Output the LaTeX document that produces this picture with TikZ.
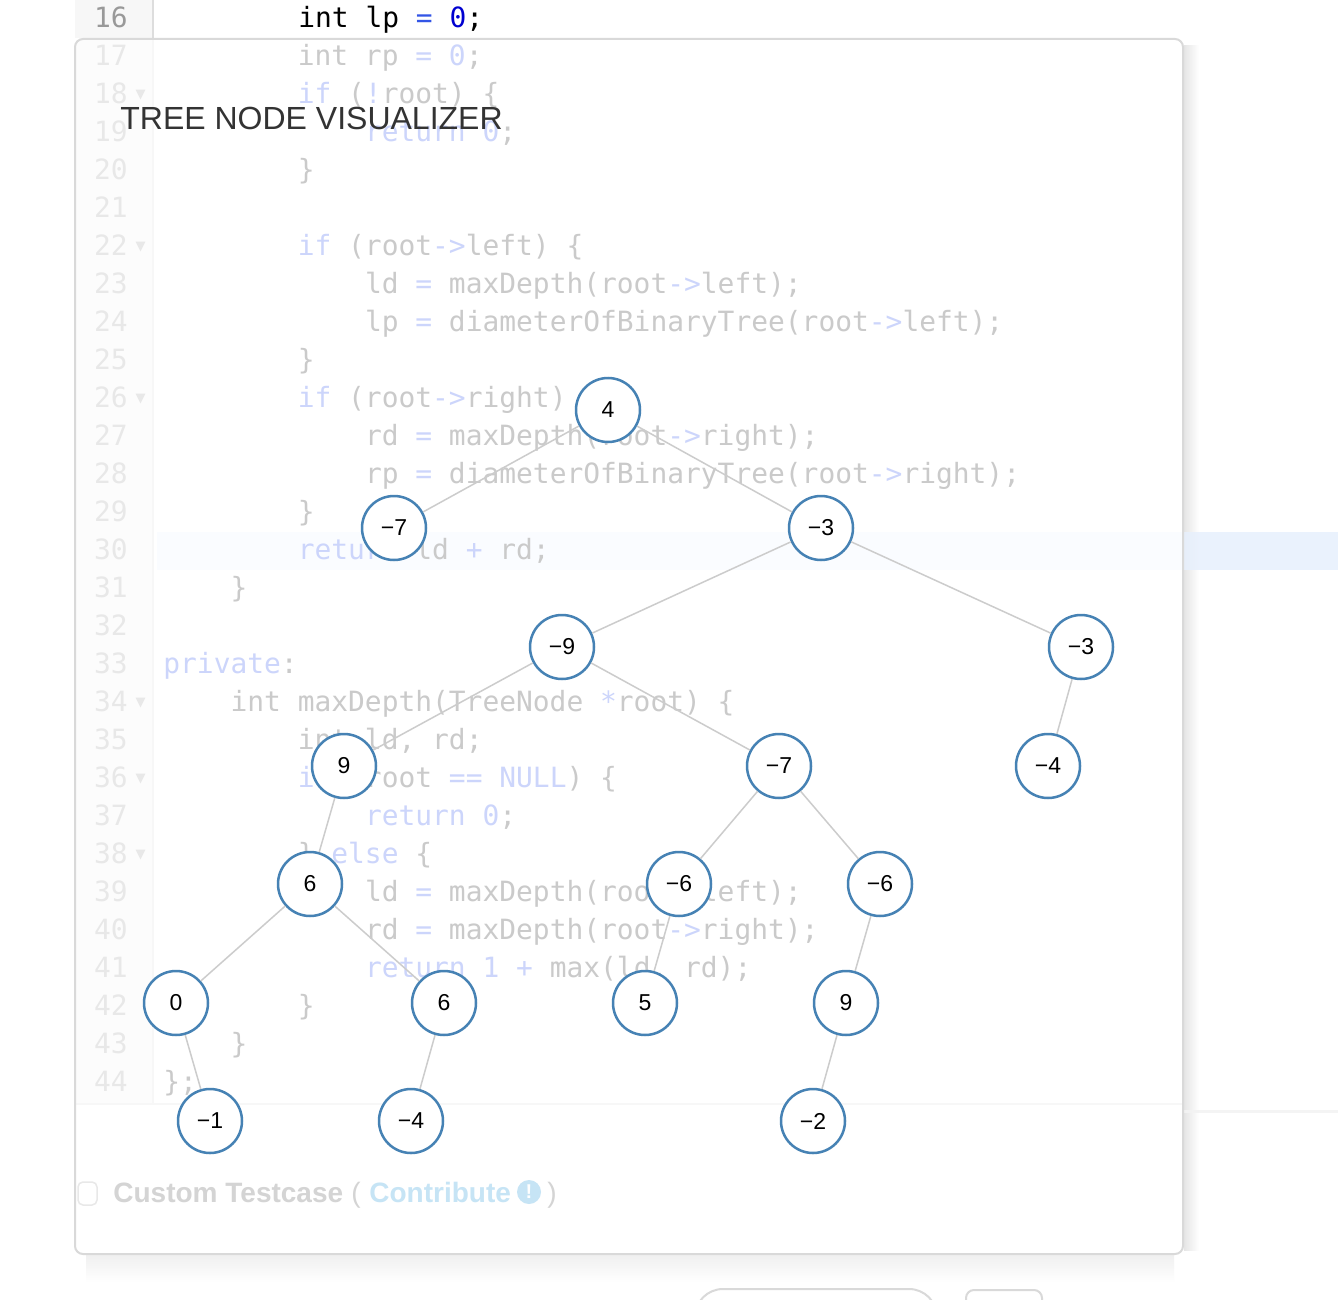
\documentclass[tikz,border=0pt]{standalone}
\usepackage{fontspec}
\setmainfont{Liberation Sans}
\newfontfamily\codefont{DejaVu Sans Mono}
\newfontfamily\symfont{DejaVu Sans}
\definecolor{nodeblue}{HTML}{4682B4}
\definecolor{edgegray}{HTML}{CCCCCC}
\definecolor{codegray}{HTML}{CACACA}
\definecolor{kwblue}{HTML}{CCD5FB}
\definecolor{lnfaint}{HTML}{E8E8E8}
\definecolor{lndark}{HTML}{999999}
\definecolor{gutterbg}{HTML}{F7F7F7}
\definecolor{gutterin}{HTML}{FCFCFC}
\definecolor{gutterln}{HTML}{DDDDDD}
\definecolor{hlin}{HTML}{FAFCFF}
\definecolor{hlout}{HTML}{E7F0FD}
\definecolor{panelln}{HTML}{D9D9D9}
\definecolor{titlegray}{HTML}{333333}
\definecolor{ctgray}{HTML}{D4D4D4}
\definecolor{ctblue}{HTML}{C6E4F5}
\definecolor{eqblue}{HTML}{3355E6}
\definecolor{zeroblue}{HTML}{0000D0}
\newcommand\kwd[1]{\textcolor{kwblue}{#1}}
\newcommand\codeline[3]{\node[codetxt] (c#1) at ({163+16.8*#2},{27.5+38*(#1-16)}) {#3};}
\begin{document}
\begin{tikzpicture}[x=0.5pt,y=-0.5pt,
  codetxt/.style={anchor=base west, inner sep=0pt, text=codegray, font=\codefont\fontsize{13.95}{16}\selectfont},
  lnum/.style={anchor=base east, inner sep=0pt, text=lnfaint, font=\codefont\fontsize{13.95}{16}\selectfont},
  fold/.style={inner sep=0pt, text=lnfaint, font=\symfont\fontsize{6.5}{7}\selectfont},
  tnode/.style={circle, draw=nodeblue, fill=white, line width=1.25pt, minimum size=32pt, inner sep=0pt, text=black, font=\fontsize{11.5}{12}\selectfont},
  tedge/.style={draw=edgegray, line width=0.75pt},
  btn/.style={draw=panelln, line width=1pt}]
\useasboundingbox (0,0) rectangle (1338,1300);
\fill[white] (0,0) rectangle (1338,1300);
% editor top line (outside the panel)
\fill[gutterbg] (75,-2) rectangle (153,38);
\draw[gutterln, line width=0.75pt] (153,-2) -- (153,38);
\node[lnum, text=lndark] (l16) at (128,27.5) {16};
\node[codetxt, text=black] (c16) at (298,27.5) {int lp \textcolor{eqblue}{=} \textcolor{zeroblue}{0};};
% panel shadow
\shade[left color=black!10, right color=white] (1184,46) rectangle (1199,1250);
\shade[top color=black!6, bottom color=white] (86,1255) rectangle (1174,1282);
% editor under the panel (faded)
\fill[gutterin] (76,40) rectangle (153,1104);
\draw[gutterbg, line width=0.75pt] (153,40) -- (153,1104);
\fill[hlin] (157,532) rectangle (1183,570);
\fill[hlout, opacity=0.85] (1184,532) rectangle (1338,570);
\draw[gutterbg, line width=0.75pt] (76,1104) -- (1183,1104);
\draw[gutterbg!150, line width=1.5pt, opacity=0.9] (1184,1111) -- (1338,1111);
\foreach \n in {17,...,44} \node[lnum] (l\n) at (128,{27.5+38*(\n-16)}) {\n};
\foreach \n in {18,22,26,34,36,38} \node[fold] (f\n) at (140.5,{19+38*(\n-16)}) {▼};
\codeline{17}{8}{int rp \kwd{=} \kwd{0};}
\codeline{18}{8}{\kwd{if} (\kwd{!}root) \{}
\codeline{19}{12}{\kwd{return} \kwd{0};}
\codeline{20}{8}{\}}
\codeline{22}{8}{\kwd{if} (root\kwd{->}left) \{}
\codeline{23}{12}{ld \kwd{=} maxDepth(root\kwd{->}left);}
\codeline{24}{12}{lp \kwd{=} diameterOfBinaryTree(root\kwd{->}left);}
\codeline{25}{8}{\}}
\codeline{26}{8}{\kwd{if} (root\kwd{->}right) \{}
\codeline{27}{12}{rd \kwd{=} maxDepth(root\kwd{->}right);}
\codeline{28}{12}{rp \kwd{=} diameterOfBinaryTree(root\kwd{->}right);}
\codeline{29}{8}{\}}
\codeline{30}{8}{\kwd{return} ld \kwd{+} rd;}
\codeline{31}{4}{\}}
\codeline{33}{0}{\kwd{private}:}
\codeline{34}{4}{int maxDepth(TreeNode \kwd{*}root) \{}
\codeline{35}{8}{int ld, rd;}
\codeline{36}{8}{\kwd{if} (root \kwd{==} \kwd{NULL}) \{}
\codeline{37}{12}{\kwd{return} \kwd{0};}
\codeline{38}{8}{\} \kwd{else} \{}
\codeline{39}{12}{ld \kwd{=} maxDepth(root\kwd{->}left);}
\codeline{40}{12}{rd \kwd{=} maxDepth(root\kwd{->}right);}
\codeline{41}{12}{\kwd{return} \kwd{1} \kwd{+} max(ld, rd);}
\codeline{42}{8}{\}}
\codeline{43}{4}{\}}
\codeline{44}{0}{\};}
% panel border
\draw[panelln, line width=1pt, rounded corners=4pt] (75,39) rectangle (1183,1254);
% title
\node[anchor=base west, inner sep=0pt, text=titlegray, font=\fontsize{16}{19}\selectfont] (title) at (120,130) {TREE NODE VISUALIZER};
% tree
\node[tnode] (n4) at (608,410) {4};
\node[tnode] (nm7a) at (394,528) {−7};
\node[tnode] (nm3a) at (821,528) {−3};
\node[tnode] (nm9) at (562,647) {−9};
\node[tnode] (nm3b) at (1081,647) {−3};
\node[tnode] (n9a) at (344,766) {9};
\node[tnode] (nm7b) at (779,766) {−7};
\node[tnode] (nm4a) at (1048,766) {−4};
\node[tnode] (n6a) at (310,884) {6};
\node[tnode] (nm6a) at (679,884) {−6};
\node[tnode] (nm6b) at (880,884) {−6};
\node[tnode] (n0) at (176,1003) {0};
\node[tnode] (n6b) at (444,1003) {6};
\node[tnode] (n5) at (645,1003) {5};
\node[tnode] (n9b) at (846,1003) {9};
\node[tnode] (nm1) at (210,1121) {−1};
\node[tnode] (nm4b) at (411,1121) {−4};
\node[tnode] (nm2) at (813,1121) {−2};
\draw[tedge] (n4) -- (nm7a);
\draw[tedge] (n4) -- (nm3a);
\draw[tedge] (nm3a) -- (nm9);
\draw[tedge] (nm3a) -- (nm3b);
\draw[tedge] (nm9) -- (n9a);
\draw[tedge] (nm9) -- (nm7b);
\draw[tedge] (nm3b) -- (nm4a);
\draw[tedge] (n9a) -- (n6a);
\draw[tedge] (nm7b) -- (nm6a);
\draw[tedge] (nm7b) -- (nm6b);
\draw[tedge] (n6a) -- (n0);
\draw[tedge] (n6a) -- (n6b);
\draw[tedge] (nm6a) -- (n5);
\draw[tedge] (nm6b) -- (n9b);
\draw[tedge] (n0) -- (nm1);
\draw[tedge] (n6b) -- (nm4b);
\draw[tedge] (n9b) -- (nm2);
% custom testcase line
\draw[lnfaint, line width=0.75pt, rounded corners=2.5pt] (78,1182) rectangle (97,1205);
\node[anchor=base west, inner sep=0pt, text=ctgray, font=\bfseries\fontsize{14}{16}\selectfont] (ct) at (113,1202) {Custom Testcase};
\node[anchor=base west, inner sep=0pt, text=ctgray, font=\fontsize{14}{16}\selectfont] (lpar) at (351,1202) {(};
\node[anchor=base west, inner sep=0pt, text=ctblue, font=\bfseries\fontsize{14}{16}\selectfont] (contrib) at (369,1202) {Contribute};
\node[circle, fill=ctblue, minimum size=12pt, inner sep=0pt, text=white, font=\bfseries\fontsize{10}{11}\selectfont] (info) at (529,1192) {!};
\node[anchor=base west, inner sep=0pt, text=ctgray, font=\fontsize{14}{16}\selectfont] (rpar) at (547,1202) {)};
% buttons below the panel
\draw[btn, rounded corners=14pt] (695,1340) -- (695,1289) -- (937,1289) -- (937,1340);
\draw[btn, rounded corners=4pt] (966,1340) -- (966,1290) -- (1042,1290) -- (1042,1340);
\end{tikzpicture}
\end{document}
